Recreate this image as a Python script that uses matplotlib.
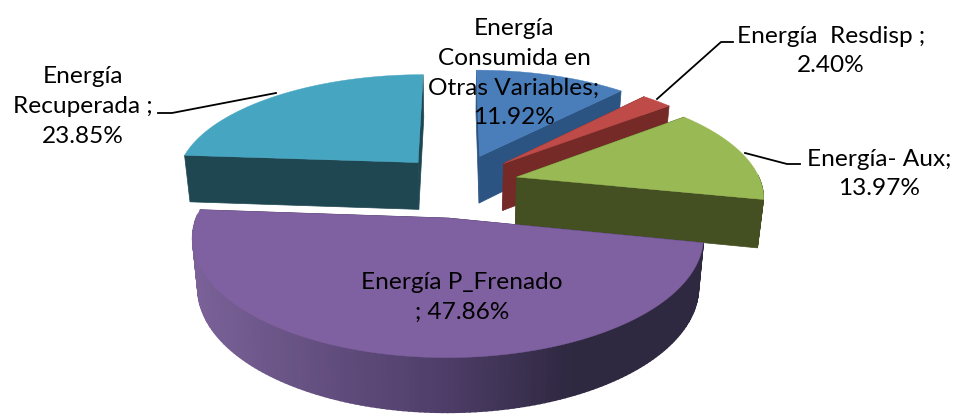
import numpy as np
import matplotlib
matplotlib.use("Agg")
import matplotlib.pyplot as plt
from matplotlib.colors import to_rgb

# --- data ---
categories = ["Energía Consumida en Otras Variables", "Energía Resdisp", "Energía- Aux",
              "Energía P_Frenado", "Energía Recuperada"]
values = [11.92, 2.40, 13.97, 47.86, 23.85]
label_texts = ["Energía\nConsumida en\nOtras Variables;\n11.92%",
               "Energía  Resdisp ;\n2.40%",
               "Energía- Aux;\n13.97%",
               "Energía P_Frenado\n; 47.86%",
               "Energía\nRecuperada ;\n23.85%"]

# --- style ---
top_colors = ["#4A7EBB", "#BE4B48", "#98B954", "#7F60A0", "#46A6C2"]
side_colors = ["#2C5482", "#752A28", "#444F22", "#3A2F50", "#1F4752"]
rim_left = ["#2C5482", "#752A28", "#444F22", "#7A6298", "#1F4752"]
rim_mid = ["#2C5482", "#752A28", "#444F22", "#4E3D68", "#1F4752"]
rim_right = ["#2C5482", "#752A28", "#444F22", "#2E2840", "#1F4752"]
offsets = [(0.10, 0.32), (0.20, 0.25), (0.25, 0.12), (-0.03, -0.245), (-0.16, 0.26)]
radii = [1.0, 1.0, 1.0, 0.98, 1.0]
label_pos = [(514, 73), (831, 51), (879, 174), (462, 297), (83, 106.5)]
draw_order = [4, 0, 1, 2, 3]
CX, CY, A, B, P, DEPTH = 456, 190, 247, 110, 0.16, 48
FS = 17.6
LS = 1.52

plt.rcParams["font.family"] = ["Lato", "DejaVu Sans"]
fig = plt.figure(figsize=(9.54, 4.15), dpi=100)
ax = fig.add_axes([0, 0, 1, 1])
ax.set_xlim(0, 954)
ax.set_ylim(415, 0)
ax.axis("off")


def project(x, y):
    s = 1 / (1 + P * y)
    return CX + A * x * s, CY - B * y * s, s


def drop(px, py, s):
    d = DEPTH * s ** 0.6
    return CX + (px - CX) * 0.98, py + d


def mix(a, b, t):
    a, b = np.array(to_rgb(a)), np.array(to_rgb(b))
    return tuple(a + (b - a) * np.clip(t, 0, 1))


total = sum(values)
edges = 90 - np.cumsum([0] + values) / total * 360

for i in draw_order:
    t0, t1 = edges[i], edges[i + 1]
    ex, ey = offsets[i]
    r = radii[i]
    z = 1 + draw_order.index(i)
    th = np.radians(np.linspace(t0, t1, 160))
    ax_x, ax_y, ax_s = project(ex, ey)
    ox, oy, os_ = project(ex + r * np.cos(th), ey + r * np.sin(th))
    bx, by = drop(ox, oy, os_)
    ab_x, ab_y = drop(ax_x, ax_y, ax_s)
    # radial walls
    for j in (0, -1):
        ax.fill([ax_x, ox[j], bx[j], ab_x], [ax_y, oy[j], by[j], ab_y],
                color=side_colors[i], lw=0.5, zorder=z)
    # outer rim
    for k in range(len(th) - 1):
        if np.sin(th[k]) > 0.02:
            continue
        u = (bx[k] - bx.min()) / max(bx.max() - bx.min(), 1)
        c = mix(rim_left[i], rim_mid[i], u / 0.5) if u < 0.5 else mix(rim_mid[i], rim_right[i], (u - 0.5) / 0.25)
        ax.fill([ox[k], ox[k + 1], bx[k + 1], bx[k]], [oy[k], oy[k + 1], by[k + 1], by[k]],
                facecolor=c, edgecolor=c, lw=1.2 if i == 3 else 0.4, zorder=z)
    # top face
    ax.fill(np.r_[ax_x, ox], np.r_[ax_y, oy], color=top_colors[i], lw=0.3, zorder=z)

# leader lines
for lx, ly in [((158, 172, 276), (113, 113, 93)),
               ((733, 721, 657), (42, 42, 99)),
               ((800, 787, 745), (164, 164, 153))]:
    ax.plot(lx, ly, color="black", lw=1.3, zorder=10, solid_joinstyle="round")

# labels
for txt, (x, y) in zip(label_texts, label_pos):
    ax.text(x, y, txt, ha="center", va="center", fontsize=FS, color="black",
            linespacing=LS, zorder=11)

fig.savefig("out.png", dpi=100)
